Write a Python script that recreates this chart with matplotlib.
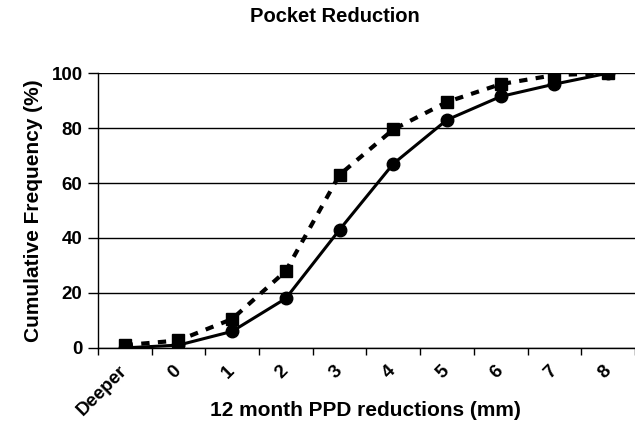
import matplotlib
matplotlib.use("Agg")
import matplotlib.pyplot as plt

# categories and cumulative frequencies
categories = ["Deeper", "0", "1", "2", "3", "4", "5", "6", "7", "8"]
circles = [0, 1, 6, 18, 43, 67, 83, 91.5, 96, 100]
squares = [1, 2.7, 10.5, 28, 63, 79.5, 89.5, 96, 99.3, 100]
y_ticks = [0, 20, 40, 60, 80, 100]

plt.rcParams['font.family'] = ['Liberation Sans', 'DejaVu Sans']

fig = plt.figure(figsize=(6.35, 4.46), dpi=100)
ax = fig.add_axes([0.154, 0.22, 0.846, 0.616])

x = list(range(len(categories)))
ax.plot(x, squares, color='black', linestyle=(0, (2, 2)), linewidth=3,
        marker='s', markersize=8.5, zorder=3)
ax.plot(x, circles, color='black', linestyle='-', linewidth=2.2,
        marker='o', markersize=9, zorder=4)

ax.set_xlim(-0.5, 9.45)
ax.set_ylim(0, 100)
ax.set_yticks(y_ticks)
ax.set_yticklabels([str(v) for v in y_ticks], fontsize=13.5, fontweight='bold')
ax.yaxis.grid(True, color='black', linewidth=1)
ax.set_axisbelow(True)

# ticks sit between categories, labels at category centres
ax.set_xticks([i - 0.5 for i in range(len(categories) + 1)])
ax.set_xticklabels([])
ax.set_xticks(x, minor=True)
ax.set_xticklabels(categories, minor=True, rotation=45, ha='right', va='center',
                   rotation_mode='anchor', fontsize=13.5, fontweight='bold')
ax.tick_params(axis='x', which='minor', length=0, pad=15)
ax.tick_params(axis='x', which='major', direction='out', length=5, width=1)
ax.tick_params(axis='y', direction='out', length=7, width=1, pad=4)

for side in ['top', 'right']:
    ax.spines[side].set_visible(False)
ax.spines['left'].set_linewidth(1)
ax.spines['bottom'].set_linewidth(1)

ax.set_ylabel("Cumulative Frequency (%)", fontsize=15, fontweight='bold', labelpad=6)
fig.text(0.575, 0.08, "12 month PPD reductions (mm)", ha='center', va='center',
         fontsize=15, fontweight='bold')
fig.text(0.527, 0.962, "Pocket Reduction", ha='center', va='center',
         fontsize=14.5, fontweight='bold')

fig.savefig("out.png", dpi=100)
plt.close(fig)
